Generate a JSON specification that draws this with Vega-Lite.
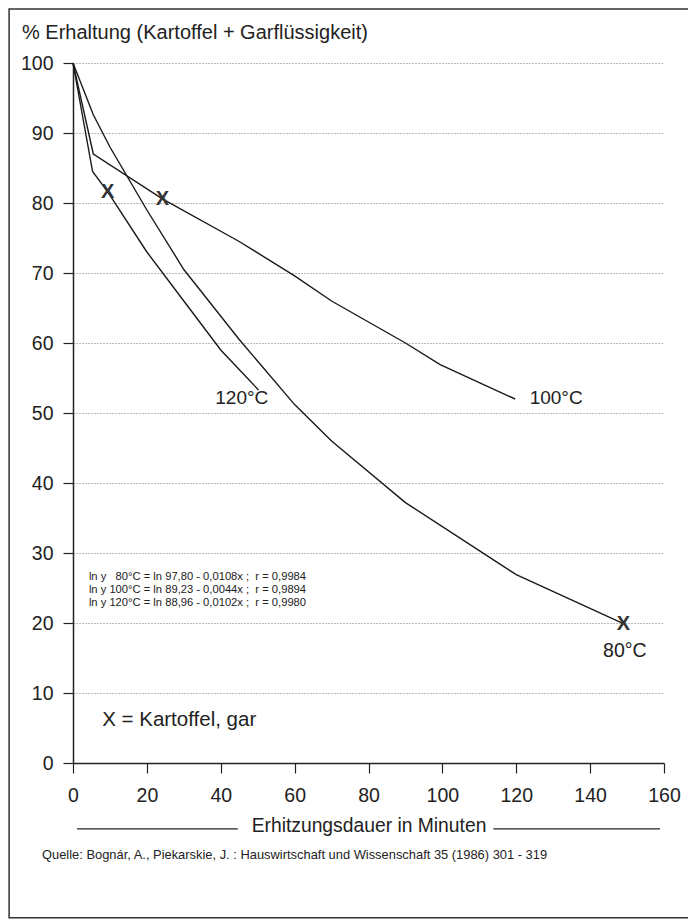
{
  "$schema": "https://vega.github.io/schema/vega-lite/v6.json",
  "width": 591,
  "height": 700,
  "autosize": {"type": "none"},
  "padding": {"left": 73, "top": 63, "right": 24, "bottom": 160},
  "background": "white",
  "config": {"font": "Liberation Sans", "view": {"stroke": null}},
  "datasets": {
    "curves": [
      {"series": "80°C", "t": 0, "v": 100},
      {"series": "80°C", "t": 5.5, "v": 92.6},
      {"series": "80°C", "t": 10, "v": 88},
      {"series": "80°C", "t": 20, "v": 79},
      {"series": "80°C", "t": 30, "v": 70.5},
      {"series": "80°C", "t": 45, "v": 60.5},
      {"series": "80°C", "t": 60, "v": 51.2},
      {"series": "80°C", "t": 70, "v": 46},
      {"series": "80°C", "t": 90, "v": 37.2},
      {"series": "80°C", "t": 120, "v": 26.9},
      {"series": "80°C", "t": 149, "v": 19.9},
      {"series": "100°C", "t": 0, "v": 100},
      {"series": "100°C", "t": 5.5, "v": 87},
      {"series": "100°C", "t": 24.2, "v": 80.6},
      {"series": "100°C", "t": 45, "v": 74.5},
      {"series": "100°C", "t": 60, "v": 69.6},
      {"series": "100°C", "t": 70, "v": 66},
      {"series": "100°C", "t": 90, "v": 60},
      {"series": "100°C", "t": 99.4, "v": 56.9},
      {"series": "100°C", "t": 119.7, "v": 52},
      {"series": "120°C", "t": 0, "v": 100},
      {"series": "120°C", "t": 5.3, "v": 84.5},
      {"series": "120°C", "t": 9.4, "v": 81.6},
      {"series": "120°C", "t": 20, "v": 73},
      {"series": "120°C", "t": 30, "v": 66},
      {"series": "120°C", "t": 40, "v": 59},
      {"series": "120°C", "t": 50.2, "v": 53.3}
    ],
    "gar": [
      {"series": "120°C", "t": 9.4, "v": 81.6},
      {"series": "100°C", "t": 24.2, "v": 80.6},
      {"series": "80°C", "t": 149, "v": 19.9}
    ],
    "formulas": [
      {"line": 1, "text": "ln y \u00a0\u00a080°C = ln 97,80 - 0,0108x ;\u00a0 r = 0,9984"},
      {"line": 2, "text": "ln y 100°C = ln 89,23 - 0,0044x ;\u00a0 r = 0,9894"},
      {"line": 3, "text": "ln y 120°C = ln 88,96 - 0,0102x ;\u00a0 r = 0,9980"}
    ],
    "one": [{}]
  },
  "layer": [
    {
      "data": {"name": "curves"},
      "mark": {"type": "line", "color": "#1a1a1a", "strokeWidth": 1.4},
      "encoding": {
        "x": {
          "field": "t", "type": "quantitative",
          "scale": {"domain": [0, 160], "nice": false},
          "axis": {
            "values": [0,5,10,15,20,25,30,35,40,45,50,55,60,65,70,75,80,85,90,95,100,105,110,115,120,125,130,135,140,145,150,155,160],
            "labelExpr": "datum.value % 20 === 0 ? datum.label : ''",
            "tickSize": {"condition": {"test": "datum.value % 20 === 0", "value": 10}, "value": 6},
            "tickColor": "#222", "tickWidth": 1.2,
            "domainColor": "#222", "domainWidth": 1.5,
            "labelFontSize": 19.5, "labelColor": "#222", "labelPadding": 13, "labelFlush": false, "labelOverlap": false,
            "grid": false,
            "title": "Erhitzungsdauer in Minuten", "titleFontSize": 19.3, "titleFontWeight": "normal", "titleColor": "#222", "titlePadding": 12
          }
        },
        "y": {
          "field": "v", "type": "quantitative",
          "scale": {"domain": [0, 100], "nice": false},
          "axis": {
            "values": [0,10,20,30,40,50,60,70,80,90,100],
            "tickSize": 10, "tickColor": "#222", "tickWidth": 1.2,
            "domainColor": "#222", "domainWidth": 1.5,
            "labelFontSize": 19.5, "labelColor": "#222", "labelPadding": 10,
            "grid": true, "gridColor": "#777", "gridDash": [1, 2], "gridWidth": 1,
            "title": null
          }
        },
        "detail": {"field": "series"}
      }
    },
    {
      "data": {"name": "one"},
      "mark": {"type": "rect", "fill": null, "stroke": "#333", "strokeWidth": 1.5},
      "encoding": {
        "x": {"datum": -17.3, "type": "quantitative"},
        "x2": {"datum": 172},
        "y": {"datum": 107.7, "type": "quantitative"},
        "y2": {"datum": -22.1}
      }
    },
    {
      "data": {"name": "one"},
      "mark": {"type": "text", "text": "% Erhaltung (Kartoffel + Garflüssigkeit)", "fontSize": 20, "align": "left", "baseline": "middle", "color": "#222"},
      "encoding": {"x": {"datum": -13.8, "type": "quantitative"}, "y": {"datum": 104.3, "type": "quantitative"}}
    },
    {
      "data": {"name": "gar"},
      "mark": {"type": "text", "text": "X", "fontWeight": "bold", "fontSize": 20, "align": "center", "baseline": "middle", "color": "#333"},
      "encoding": {
        "x": {"field": "t", "type": "quantitative"},
        "y": {"field": "v", "type": "quantitative"}
      }
    },
    {
      "data": {"name": "one"},
      "mark": {"type": "text", "text": "120°C", "fontSize": 19, "align": "center", "baseline": "middle", "color": "#222"},
      "encoding": {"x": {"datum": 45.7, "type": "quantitative"}, "y": {"datum": 52.2, "type": "quantitative"}}
    },
    {
      "data": {"name": "one"},
      "mark": {"type": "text", "text": "100°C", "fontSize": 19, "align": "center", "baseline": "middle", "color": "#222"},
      "encoding": {"x": {"datum": 130.8, "type": "quantitative"}, "y": {"datum": 52.2, "type": "quantitative"}}
    },
    {
      "data": {"name": "one"},
      "mark": {"type": "text", "text": "80°C", "fontSize": 19.5, "align": "center", "baseline": "middle", "color": "#222"},
      "encoding": {"x": {"datum": 149.4, "type": "quantitative"}, "y": {"datum": 16.0, "type": "quantitative"}}
    },
    {
      "data": {"name": "formulas"},
      "mark": {"type": "text", "fontSize": 11.2, "align": "left", "baseline": "middle", "color": "#222"},
      "encoding": {
        "x": {"datum": 4.3, "type": "quantitative"},
        "y": {"datum": 26.6, "type": "quantitative"},
        "yOffset": {"field": "line", "type": "quantitative", "scale": {"domain": [1, 3], "range": [0, 26]}},
        "text": {"field": "text"}
      }
    },
    {
      "data": {"name": "one"},
      "mark": {"type": "text", "text": "X = Kartoffel, gar", "fontSize": 20.5, "align": "left", "baseline": "middle", "color": "#222"},
      "encoding": {"x": {"datum": 7.9, "type": "quantitative"}, "y": {"datum": 6.1, "type": "quantitative"}}
    },
    {
      "data": {"name": "one"},
      "mark": {"type": "rule", "color": "#222", "strokeWidth": 1.2},
      "encoding": {"x": {"datum": 1.1, "type": "quantitative"}, "x2": {"datum": 44.6}, "y": {"datum": -9.4, "type": "quantitative"}}
    },
    {
      "data": {"name": "one"},
      "mark": {"type": "rule", "color": "#222", "strokeWidth": 1.2},
      "encoding": {"x": {"datum": 113.8, "type": "quantitative"}, "x2": {"datum": 158.9}, "y": {"datum": -9.4, "type": "quantitative"}}
    },
    {
      "data": {"name": "one"},
      "mark": {"type": "text", "text": "Quelle: Bognár, A., Piekarskie, J. : Hauswirtschaft und Wissenschaft 35 (1986) 301 - 319", "fontSize": 12.9, "align": "left", "baseline": "middle", "color": "#222"},
      "encoding": {"x": {"datum": -8.4, "type": "quantitative"}, "y": {"datum": -13.1, "type": "quantitative"}}
    }
  ]
}
